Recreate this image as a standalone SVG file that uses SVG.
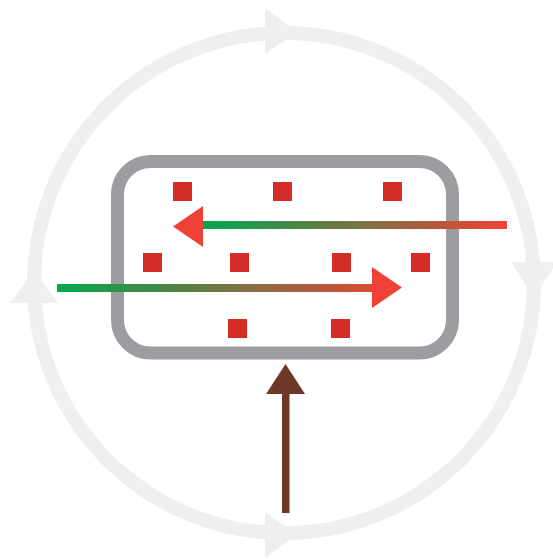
<svg xmlns="http://www.w3.org/2000/svg" width="553" height="559" viewBox="0 0 553 559">
<style>
.ring{fill:none;stroke:#efeff1;stroke-width:14}
.ringhead{fill:#efeff1}
.box{fill:none;stroke:#9c9da1;stroke-width:13}
.dot{fill:#d42c27}
.head{fill:#ef4136}
</style>
<defs>
<linearGradient id="gTop" gradientUnits="userSpaceOnUse" x1="203" y1="0" x2="507" y2="0">
<stop offset="0" stop-color="#00a650"/>
<stop offset="1" stop-color="#ef4136"/>
</linearGradient>
<linearGradient id="gBot" gradientUnits="userSpaceOnUse" x1="57" y1="0" x2="402" y2="0">
<stop offset="0" stop-color="#00a650"/>
<stop offset="1" stop-color="#ef4136"/>
</linearGradient>
</defs>
<g id="cycle">
<circle class="ring" cx="284" cy="283" r="250"/>
<polygon class="ringhead" points="265,8 265,54 297,32"/>
<polygon class="ringhead" points="511,262 557,262 534,298"/>
<polygon class="ringhead" points="265,512 265,558 297,534"/>
<polygon class="ringhead" points="10,303 58,303 34,271"/>
</g>
<g id="box">
<rect class="box" x="117.5" y="161.5" width="335" height="191.5" rx="33" ry="33"/>
</g>
<g id="particles">
<rect class="dot" x="173" y="182" width="19" height="19"/>
<rect class="dot" x="273" y="182" width="19" height="19"/>
<rect class="dot" x="383" y="182" width="19" height="19"/>
<rect class="dot" x="143" y="253" width="19" height="19"/>
<rect class="dot" x="230" y="253" width="19" height="19"/>
<rect class="dot" x="332" y="253" width="19" height="19"/>
<rect class="dot" x="411" y="253" width="19" height="19"/>
<rect class="dot" x="228" y="319" width="19" height="19"/>
<rect class="dot" x="331" y="319" width="19" height="19"/>
</g>
<g id="connectors">
<rect x="202" y="221" width="305" height="8" fill="url(#gTop)"/>
<polygon class="head" points="203,206 203,247 173,226.5"/>
<rect x="57" y="284" width="316" height="8" fill="url(#gBot)"/>
<polygon class="head" points="372,267 372,308 402,287.5"/>
<rect x="282" y="392" width="7.5" height="121" fill="#6d3829"/>
<polygon fill="#6d3829" points="266,394 305,394 285.5,364"/>
</g>
</svg>
